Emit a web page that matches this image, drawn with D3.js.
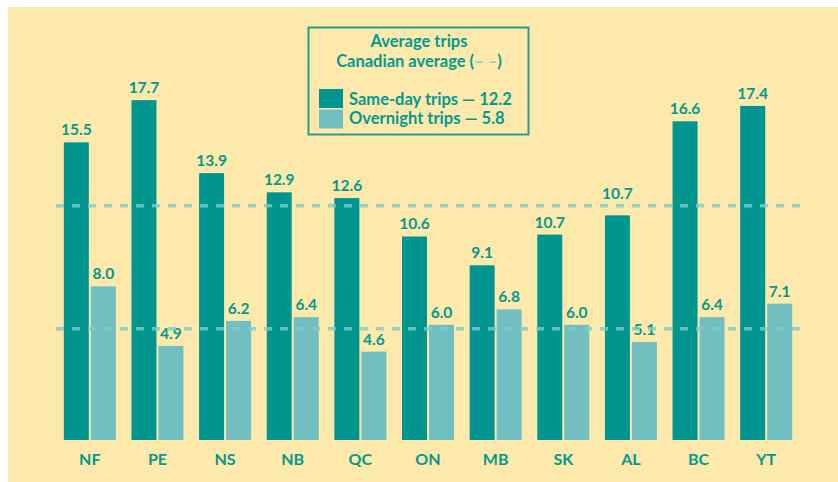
<!DOCTYPE html>
<html lang="en">
<head>
  <meta charset="UTF-8" />
  <title>Average trips by province</title>
  <style>
    html, body { margin: 0; padding: 0; background: #fff; }
    svg { display: block; }
    text { font-family: Lato, "Open Sans", sans-serif; font-weight: bold; fill: #009a90; }
  </style>
</head>
<body>
  <svg width="838" height="482"></svg>
  <script src="https://d3js.org/d3.v7.min.js"></script>
  <script>
    const provinces = ['NF', 'PE', 'NS', 'NB', 'QC', 'ON', 'MB', 'SK', 'AL', 'BC', 'YT'];
    // bar heights as drawn
    const sameDay   = [15.5, 17.7, 13.9, 12.9, 12.6, 10.6, 9.1, 10.7, 11.7, 16.6, 17.4];
    const overnight = [8.0, 4.9, 6.2, 6.4, 4.6, 6.0, 6.8, 6.0, 5.1, 6.4, 7.1];
    // numbers as printed above the bars (AL is printed 10.7 on a taller bar)
    const sameDayLabels   = ['15.5', '17.7', '13.9', '12.9', '12.6', '10.6', '9.1', '10.7', '10.7', '16.6', '17.4'];
    const overnightLabels = ['8.0', '4.9', '6.2', '6.4', '4.6', '6.0', '6.8', '6.0', '5.1', '6.4', '7.1'];
    const canadianAvg = { sameDay: 12.2, overnight: 5.8 };

    const colSame = '#00968f', colOver = '#72bfc1', dashCol = '#7ccaca';

    const svg = d3.select('svg');

    svg.append('rect')
      .attr('x', 8).attr('y', 7).attr('width', 830).attr('height', 475)
      .attr('fill', '#fde9ab');

    const x = d3.scaleBand().domain(provinces).range([56, 800]);
    const y = d3.scaleLinear().domain([0, 20]).range([440, 56]);
    const barW = 25, barGap = 2;

    const series = [
      { key: 'sameDay', values: sameDay, labels: sameDayLabels, color: colSame, off: -barW - barGap / 2 },
      { key: 'overnight', values: overnight, labels: overnightLabels, color: colOver, off: barGap / 2 }
    ];

    const rows = series.flatMap(s => provinces.map((p, i) => ({ p, v: s.values[i], lab: s.labels[i], s })));
    const cx = p => x(p) + x.bandwidth() / 2;

    svg.append('g').selectAll('rect')
      .data(rows)
      .join('rect')
      .attr('x', d => cx(d.p) + d.s.off)
      .attr('y', d => y(d.v))
      .attr('width', barW)
      .attr('height', d => y(0) - y(d.v))
      .attr('fill', d => d.s.color);

    svg.append('g').selectAll('text')
      .data(rows)
      .join('text')
      .attr('x', d => cx(d.p) + d.s.off + barW / 2)
      .attr('y', d => y(d.v) - (d.p === 'AL' && d.s.key === 'sameDay' ? 16 : 7))
      .attr('text-anchor', 'middle')
      .attr('font-size', 15.5)
      .text(d => d.lab);

    // Canadian averages
    svg.append('g').selectAll('line')
      .data([canadianAvg.sameDay, canadianAvg.overnight])
      .join('line')
      .attr('x1', 56).attr('x2', 800)
      .attr('y1', d => y(d)).attr('y2', d => y(d))
      .attr('stroke', dashCol)
      .attr('stroke-opacity', 0.8)
      .attr('stroke-width', 3.5)
      .attr('stroke-dasharray', '8 8');

    svg.append('g').selectAll('text')
      .data(provinces)
      .join('text')
      .attr('x', d => cx(d))
      .attr('y', 465)
      .attr('text-anchor', 'middle')
      .attr('font-size', 16)
      .text(d => d);

    // legend
    const lg = svg.append('g');
    lg.append('rect')
      .attr('x', 308.5).attr('y', 27.5).attr('width', 220).attr('height', 107)
      .attr('fill', 'none').attr('stroke', '#2a9d8f').attr('stroke-width', 2);
    lg.append('text').attr('x', 419).attr('y', 47).attr('text-anchor', 'middle')
      .attr('font-size', 16.5).text('Average trips');
    const t2 = lg.append('text').attr('x', 419).attr('y', 67).attr('text-anchor', 'middle')
      .attr('font-size', 16.5);
    t2.append('tspan').text('Canadian average (');
    t2.append('tspan').style('fill', '#8fcfc9').text('– –');
    t2.append('tspan').text(')');

    const legendItems = [
      { label: 'Same-day trips — ' + canadianAvg.sameDay.toFixed(1), color: colSame },
      { label: 'Overnight trips — ' + canadianAvg.overnight.toFixed(1), color: colOver }
    ];
    legendItems.forEach((d, i) => {
      lg.append('rect').attr('x', 319).attr('y', 89 + i * 20.5).attr('width', 24).attr('height', 19)
        .attr('fill', d.color);
      lg.append('text').attr('x', 349).attr('y', 105 + i * 18.5)
        .attr('font-size', 16.5).text(d.label);
    });
  </script>
</body>
</html>
